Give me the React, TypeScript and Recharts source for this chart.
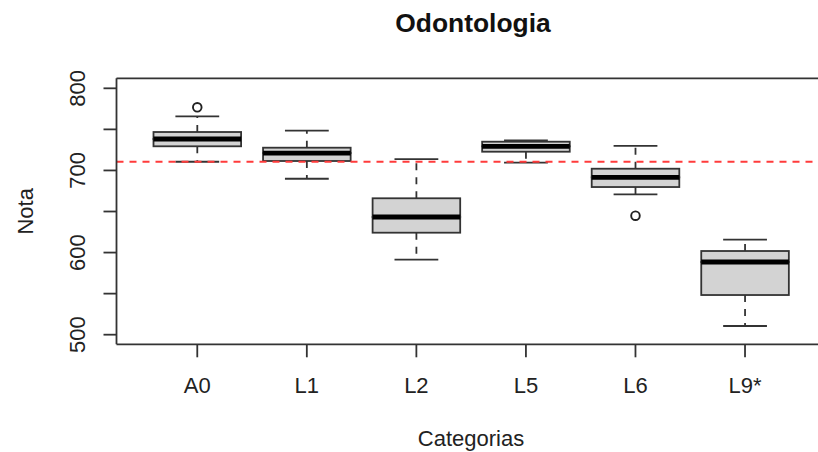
import React from 'react';
import { ComposedChart, Bar, Line, XAxis, YAxis, ReferenceLine } from 'recharts';

const categories = ['A0', 'L1', 'L2', 'L5', 'L6', 'L9*'];
const whiskerLow = [710.6, 689.9, 591.3, 709.4, 670.9, 510.6];
const quartile1 = [729.4, 711.5, 624.2, 722.8, 679.8, 548.3];
const medians = [738.3, 721.2, 643.3, 729.4, 691.6, 588.5];
const quartile3 = [746.8, 727.7, 666.1, 735.0, 702.1, 601.9];
const whiskerHigh = [765.9, 748.4, 713.9, 736.7, 729.8, 615.7];
const outliers: (number | null)[] = [776.9, null, null, null, 644.9, null];
const yTicks = [500, 550, 600, 650, 700, 750, 800];
const referenceValue = 710.6;
const yMin = 488.3;
const yMax = 812.2;

const data = categories.map((cat, i) => ({
  cat,
  base: whiskerLow[i],
  lowWhisker: quartile1[i] - whiskerLow[i],
  lowBox: medians[i] - quartile1[i],
  highBox: quartile3[i] - medians[i],
  highWhisker: whiskerHigh[i] - quartile3[i],
  outlier: outliers[i],
}));

const FONT = '"Liberation Sans", Arial, sans-serif';
const LINE = '#333';
const LW = 1.8;

const EmptyShape = () => <g />;

const LowWhiskerShape = (p: any) => {
  const cx = p.x + p.width / 2;
  const top = p.y;
  const bottom = p.y + p.height;
  return (
    <g>
      <line x1={cx} y1={top} x2={cx} y2={bottom} stroke={LINE} strokeWidth={LW} strokeDasharray="7 7" />
      <line x1={cx - p.width / 4} x2={cx + p.width / 4} y1={bottom} y2={bottom} stroke={LINE} strokeWidth={LW} />
    </g>
  );
};

const HighWhiskerShape = (p: any) => {
  const cx = p.x + p.width / 2;
  const top = p.y;
  const bottom = p.y + p.height;
  return (
    <g>
      <line x1={cx} y1={bottom} x2={cx} y2={top} stroke={LINE} strokeWidth={LW} strokeDasharray="7 7" />
      <line x1={cx - p.width / 4} x2={cx + p.width / 4} y1={top} y2={top} stroke={LINE} strokeWidth={LW} />
    </g>
  );
};

const LowBoxShape = (p: any) => (
  <rect x={p.x} y={p.y} width={p.width} height={p.height} fill="#d3d3d3" stroke={LINE} strokeWidth={LW} />
);

const HighBoxShape = (p: any) => (
  <g>
    <rect x={p.x} y={p.y} width={p.width} height={p.height} fill="#d3d3d3" stroke={LINE} strokeWidth={LW} />
    <line x1={p.x} x2={p.x + p.width} y1={p.y + p.height} y2={p.y + p.height} stroke="#000" strokeWidth={4.8} />
  </g>
);

const OutlierDot = (p: any) => {
  if (p.value == null || p.cy == null || isNaN(p.cy)) return <g key={`o-${p.index}`} />;
  return <circle key={`o-${p.index}`} cx={p.cx} cy={p.cy} r={4.3} fill="none" stroke="#222" strokeWidth={1.9} />;
};

const YTick = (p: any) => {
  const v = p.payload.value;
  if (v % 100 !== 0) return <g />;
  return (
    <text x={p.x} y={p.y} transform={`rotate(-90, ${p.x}, ${p.y})`} textAnchor="middle" fontSize={22} fill="#222" fontFamily={FONT}>
      {v}
    </text>
  );
};

const XTick = (p: any) => (
  <text x={p.x} y={p.y} textAnchor="middle" fontSize={22} fill="#222" fontFamily={FONT}>
    {p.payload.value}
  </text>
);

export default function App() {
  return (
    <div style={{ position: 'fixed', left: 0, top: 0, width: 818, height: 452, overflow: 'hidden', background: '#fff' }}>
      <ComposedChart width={826} height={452} data={data} margin={{ top: 78.3, right: 0, bottom: 0, left: 56.5 }}>
        <XAxis
          dataKey="cat"
          type="category"
          height={107.7}
          padding={{ left: 26, right: 26.2 }}
          interval={0}
          tickSize={13}
          tickMargin={36}
          tick={<XTick />}
          axisLine={{ stroke: LINE, strokeWidth: LW }}
          tickLine={{ stroke: LINE, strokeWidth: LW }}
        />
        <YAxis
          type="number"
          width={60}
          domain={[yMin, yMax]}
          allowDataOverflow
          ticks={yTicks}
          interval={0}
          tickSize={13}
          tickMargin={18.5}
          tick={<YTick />}
          axisLine={{ stroke: LINE, strokeWidth: LW }}
          tickLine={{ stroke: LINE, strokeWidth: LW }}
        />
        <ReferenceLine y={yMax} stroke={LINE} strokeWidth={LW} />
        <Bar dataKey="base" stackId="box" barSize={87.6} shape={<EmptyShape />} isAnimationActive={false} />
        <Bar dataKey="lowWhisker" stackId="box" barSize={87.6} shape={<LowWhiskerShape />} isAnimationActive={false} />
        <Bar dataKey="lowBox" stackId="box" barSize={87.6} shape={<LowBoxShape />} isAnimationActive={false} />
        <Bar dataKey="highBox" stackId="box" barSize={87.6} shape={<HighBoxShape />} isAnimationActive={false} />
        <Bar dataKey="highWhisker" stackId="box" barSize={87.6} shape={<HighWhiskerShape />} isAnimationActive={false} />
        <ReferenceLine y={referenceValue} stroke="#ff3b3b" strokeWidth={1.8} strokeDasharray="7 6" />
        <Line dataKey="outlier" stroke="none" dot={OutlierDot} activeDot={false} isAnimationActive={false} legendType="none" />
      </ComposedChart>
      <svg width={818} height={452} style={{ position: 'absolute', left: 0, top: 0, pointerEvents: 'none' }}>
        <text x={473} y={32} textAnchor="middle" fontSize={26.4} fontWeight="bold" fill="#111" fontFamily={FONT}>
          Odontologia
        </text>
        <text x={33.3} y={211.3} transform="rotate(-90, 33.3, 211.3)" textAnchor="middle" fontSize={22} fill="#222" fontFamily={FONT}>
          Nota
        </text>
        <text x={471} y={446} textAnchor="middle" fontSize={22} fill="#222" fontFamily={FONT}>
          Categorias
        </text>
      </svg>
    </div>
  );
}
